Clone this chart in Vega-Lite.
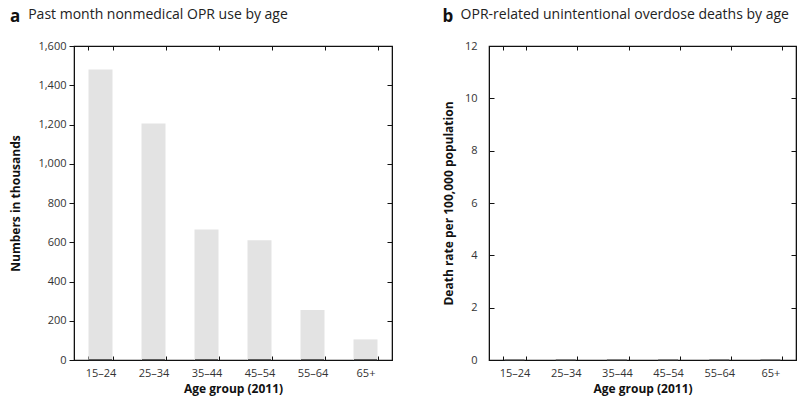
{
  "$schema": "https://vega.github.io/schema/vega-lite/v6.json",
  "background": "white",
  "padding": {"left": 9, "top": 7, "right": 1, "bottom": 4},
  "config": {
    "font": "Open Sans",
    "view": {"stroke": "#111", "strokeWidth": 1.2},
    "axis": {
      "grid": false,
      "domainColor": "#111",
      "tickColor": "#111",
      "labelColor": "#333",
      "labelFont": "Open Sans",
      "labelFontSize": 11,
      "titleFont": "Open Sans",
      "titleFontSize": 12,
      "titleFontWeight": "bold",
      "titleColor": "#111"
    }
  },
  "data": {
    "values": [
      {"age": "15–24", "users": 1480, "deaths": 0},
      {"age": "25–34", "users": 1205, "deaths": 0},
      {"age": "35–44", "users": 665, "deaths": 0},
      {"age": "45–54", "users": 610, "deaths": 0},
      {"age": "55–64", "users": 255, "deaths": 0},
      {"age": "65+", "users": 105, "deaths": 0}
    ]
  },
  "spacing": 47,
  "hconcat": [
    {
      "width": 318,
      "height": 314,
      "title": {
        "text": "a",
        "subtitle": "\u200b\u00a0\u00a0\u00a0\u00a0\u00a0Past month nonmedical OPR use by age",
        "anchor": "start",
        "frame": "bounds",
        "fontSize": 17,
        "fontWeight": "bold",
        "color": "#111",
        "subtitleFont": "Open Sans",
        "subtitleFontSize": 14,
        "subtitleColor": "#222",
        "subtitlePadding": -18,
        "offset": 14
      },
      "layer": [
        {
          "mark": {"type": "bar", "fill": "#e3e3e3"},
          "encoding": {
            "x": {
              "field": "age", "type": "nominal", "sort": null,
              "scale": {"paddingInner": 0.547, "paddingOuter": 0.2735},
              "axis": {"orient": "bottom", "title": "Age group (2011)", "labelAngle": 0, "tickBand": "extent", "tickSize": -4, "labelPadding": 11, "titlePadding": 5}
            },
            "y": {
              "field": "users", "type": "quantitative",
              "scale": {"domain": [0, 1600]},
              "axis": {"orient": "left", "title": "Numbers in thousands", "values": [0, 200, 400, 600, 800, 1000, 1200, 1400, 1600], "format": ",d", "tickSize": 5, "labelPadding": 3, "titlePadding": 15}
            }
          }
        },
        {
          "mark": {"type": "tick", "color": "#222", "thickness": 2, "size": 23},
          "encoding": {
            "x": {
              "field": "age", "type": "nominal", "sort": null,
              "axis": {"orient": "top", "title": null, "labels": false, "tickBand": "extent", "tickSize": -4}
            },
            "y": {
              "datum": 0, "type": "quantitative",
              "axis": {"orient": "right", "title": null, "labels": false, "tickSize": -5, "values": [0, 200, 400, 600, 800, 1000, 1200, 1400, 1600]}
            }
          }
        }
      ],
      "resolve": {"axis": {"x": "independent", "y": "independent"}}
    },
    {
      "width": 307,
      "height": 314,
      "title": {
        "text": "b",
        "subtitle": "\u200b\u00a0\u00a0\u00a0\u00a0\u00a0OPR-related unintentional overdose deaths by age",
        "anchor": "start",
        "frame": "bounds",
        "fontSize": 17,
        "fontWeight": "bold",
        "color": "#111",
        "subtitleFont": "Open Sans",
        "subtitleFontSize": 14,
        "subtitleColor": "#222",
        "subtitlePadding": -18,
        "offset": 14
      },
      "layer": [
        {
          "mark": {"type": "bar", "fill": "#e3e3e3"},
          "encoding": {
            "x": {
              "field": "age", "type": "nominal", "sort": null,
              "scale": {"paddingInner": 0.547, "paddingOuter": 0.2735},
              "axis": {"orient": "bottom", "title": "Age group (2011)", "labelAngle": 0, "tickBand": "extent", "tickSize": -4, "labelPadding": 11, "titlePadding": 5}
            },
            "y": {
              "field": "deaths", "type": "quantitative",
              "scale": {"domain": [0, 12]},
              "axis": {"orient": "left", "title": "Death rate per 100,000 population", "values": [0, 2, 4, 6, 8, 10, 12], "tickSize": -5, "labelPadding": 17, "titlePadding": 9}
            }
          }
        },
        {
          "mark": {"type": "tick", "color": "#444", "thickness": 1.5, "size": 20},
          "encoding": {
            "x": {
              "field": "age", "type": "nominal", "sort": null,
              "axis": {"orient": "top", "title": null, "labels": false, "tickBand": "extent", "tickSize": -4}
            },
            "y": {
              "datum": 0, "type": "quantitative",
              "axis": {"orient": "right", "title": null, "labels": false, "tickSize": -5, "values": [0, 2, 4, 6, 8, 10, 12]}
            }
          }
        }
      ],
      "resolve": {"axis": {"x": "independent", "y": "independent"}}
    }
  ]
}
